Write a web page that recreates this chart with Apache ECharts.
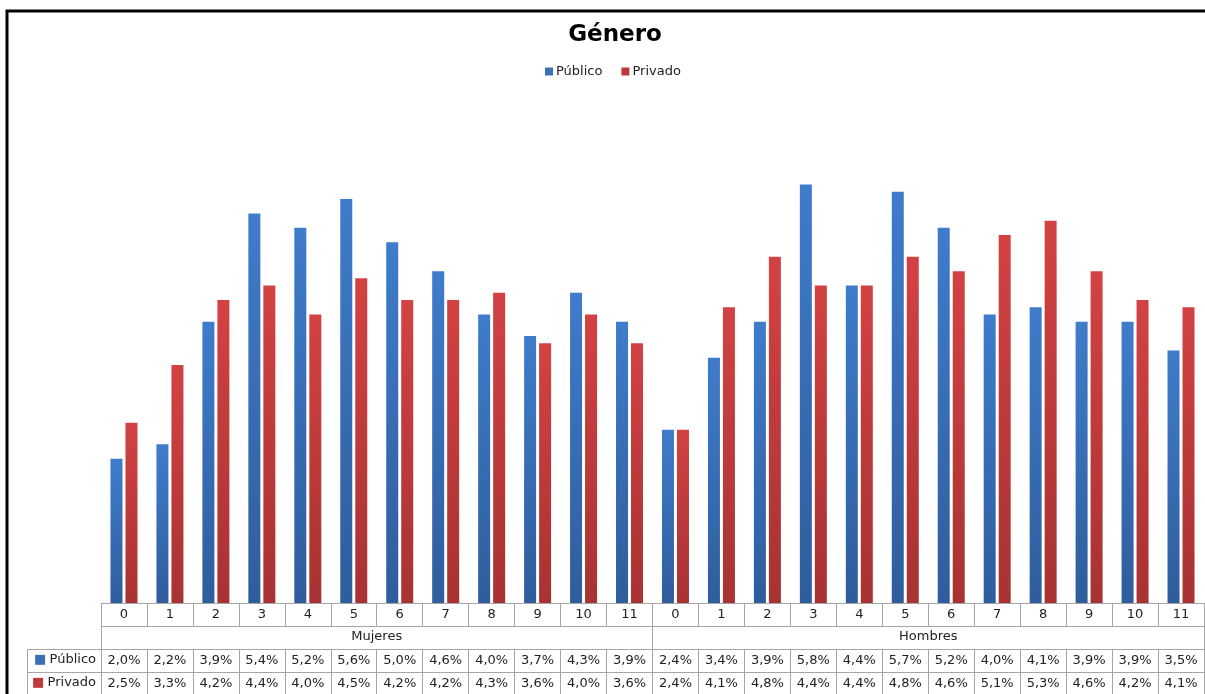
<!DOCTYPE html>
<html>
<head>
<meta charset="utf-8">
<title>Género</title>
<script src="https://cdn.jsdelivr.net/npm/echarts@6/dist/echarts.min.js"></script>
<style>
  html, body { margin: 0; padding: 0; background: #fff; }
  #chart { width: 1205px; height: 694px; }
</style>
</head>
<body>
<div id="chart"></div>
<script>
// categorías (0-11 para cada grupo)
const ages = ['0','1','2','3','4','5','6','7','8','9','10','11',
              '0','1','2','3','4','5','6','7','8','9','10','11'];
const groups = ['Mujeres', 'Hombres'];
// valores en %
const publico = [2.0, 2.2, 3.9, 5.4, 5.2, 5.6, 5.0, 4.6, 4.0, 3.7, 4.3, 3.9,
                 2.4, 3.4, 3.9, 5.8, 4.4, 5.7, 5.2, 4.0, 4.1, 3.9, 3.9, 3.5];
const privado = [2.5, 3.3, 4.2, 4.4, 4.0, 4.5, 4.2, 4.2, 4.3, 3.6, 4.0, 3.6,
                 2.4, 4.1, 4.8, 4.4, 4.4, 4.8, 4.6, 5.1, 5.3, 4.6, 4.2, 4.1];

const chart = echarts.init(document.getElementById('chart'));
const font = 'DejaVu Sans';
const lineGray = '#a6a6a6';
const blue = '#3b70b5';
const red = '#c0393a';

const fmt = v => v.toFixed(1).replace('.', ',') + '%';
const idx = ages.map((a, i) => String(i));

// eje de tabla (una fila de 23px)
function tableAxis(offset, labels, name, color) {
  return {
    type: 'category',
    data: idx,
    position: 'bottom',
    offset: offset,
    axisLine: { show: true, lineStyle: { color: lineGray, width: 1 } },
    axisTick: { show: true, interval: 0, length: 23, lineStyle: { color: lineGray } },
    axisLabel: {
      interval: 0, margin: 5, fontFamily: font, fontSize: 13, color: '#222',
      formatter: (v, i) => labels[i]
    },
    name: name ? '{k|■} {n|' + name + '}' : '',
    nameLocation: 'start',
    nameGap: 5,
    nameTextStyle: {
      verticalAlign: 'top',
      padding: [4, 0, 0, 0],
      rich: {
        k: { color: color, fontFamily: font, fontSize: 13 },
        n: { color: '#222', fontFamily: font, fontSize: 13 }
      }
    }
  };
}

const option = {
  animation: false,
  backgroundColor: '#fff',
  title: {
    text: 'Género',
    left: 610,
    textAlign: 'center',
    top: 19,
    textStyle: { fontFamily: font, fontWeight: 'bold', fontSize: 23, color: '#000' }
  },
  legend: {
    top: 65,
    left: 545,
    padding: 0,
    itemWidth: 8,
    itemHeight: 8,
    itemGap: 19,
    icon: 'rect',
    textStyle: { fontFamily: font, fontSize: 13, color: '#222', padding: [0, 0, 0, -2] },
    data: [
      { name: 'Público', itemStyle: { color: blue } },
      { name: 'Privado', itemStyle: { color: red } }
    ]
  },
  grid: { left: 101, right: 1, top: 98, bottom: 91, outerBoundsMode: 'none' },
  xAxis: [
    tableAxis(0, ages, '', null),
    {
      type: 'category',
      data: groups,
      position: 'bottom',
      offset: 23,
      axisLine: { show: true, lineStyle: { color: lineGray } },
      axisTick: { show: true, interval: 0, length: 23, lineStyle: { color: lineGray } },
      axisLabel: { interval: 0, margin: 4, fontFamily: font, fontSize: 13, color: '#222' }
    },
    tableAxis(46, publico.map(fmt), 'Público', blue),
    tableAxis(69, privado.map(fmt), 'Privado', red)
  ],
  yAxis: { type: 'value', min: 0, max: 7, show: false, splitLine: { show: false } },
  series: [
    {
      name: 'Público', type: 'bar', xAxisIndex: 0, data: publico,
      barWidth: 12, barGap: '25%',
      itemStyle: {
        color: new echarts.graphic.LinearGradient(0, 0, 0, 1, [
          { offset: 0, color: '#3f7ccb' },
          { offset: 1, color: '#2f5d9c' }
        ])
      }
    },
    {
      name: 'Privado', type: 'bar', xAxisIndex: 0, data: privado,
      barWidth: 12, barGap: '25%',
      itemStyle: {
        color: new echarts.graphic.LinearGradient(0, 0, 0, 1, [
          { offset: 0, color: '#d34243' },
          { offset: 1, color: '#a83232' }
        ])
      }
    }
  ],
  graphic: [
    // marco
    { type: 'rect', shape: { x: 7, y: 11, width: 1300, height: 800 },
      style: { fill: 'none', stroke: '#000', lineWidth: 3 }, silent: true },
    // columna de encabezado de la tabla
    { type: 'line', shape: { x1: 27.5, y1: 649.5, x2: 101, y2: 649.5 }, style: { stroke: lineGray } },
    { type: 'line', shape: { x1: 27.5, y1: 672.5, x2: 101, y2: 672.5 }, style: { stroke: lineGray } },
    { type: 'line', shape: { x1: 27.5, y1: 649.5, x2: 27.5, y2: 700 }, style: { stroke: lineGray } }
  ]
};
chart.setOption(option);
</script>
</body>
</html>
